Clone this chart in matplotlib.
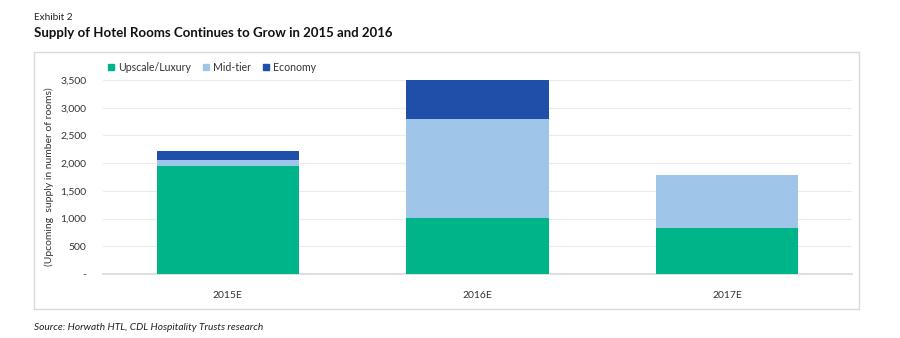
import numpy as np
import matplotlib.pyplot as plt
from matplotlib.patches import Rectangle

plt.rcParams['font.family'] = ['Lato', 'DejaVu Sans']

years = ["2015E", "2016E", "2017E"]
upscale = [1950, 1010, 825]
midtier = [110, 1780, 965]
economy = [160, 710, 0]
series_names = ["Upscale/Luxury", "Mid-tier", "Economy"]
colors = ["#00B48A", "#9FC5E8", "#1F4FA8"]
yticks = [0, 500, 1000, 1500, 2000, 2500, 3000, 3500]
ytick_labels = ["-", "500", "1,000", "1,500", "2,000", "2,500", "3,000", "3,500"]

fig = plt.figure(figsize=(9, 3.38), dpi=100)
ax = fig.add_axes([0.1144, 0.1893, 0.8323, 0.574])

# outer frame around the chart
fig.patches.append(Rectangle((0.0378, 0.0858), 0.9167, 0.760, transform=fig.transFigure,
                             fill=False, edgecolor="#d9d9d9", linewidth=1.0))

x = np.arange(len(years))
w = 0.57
bottom = np.zeros(len(years))
for vals, name, c in zip([upscale, midtier, economy], series_names, colors):
    ax.bar(x, vals, w, bottom=bottom, color=c, label=name, zorder=3)
    bottom += np.array(vals)

ax.set_xlim(-0.5, 2.5)
ax.set_ylim(0, 3500)
ax.set_yticks(yticks)
ax.set_yticklabels(ytick_labels)
ax.set_xticks(x)
ax.set_xticklabels(years)
ax.tick_params(axis="both", length=0, labelsize=7.5, colors="#333333")
ax.tick_params(axis="y", pad=12)
ax.tick_params(axis="x", pad=12)
ax.grid(axis="y", color="#ececec", linewidth=0.8, zorder=0)
for s in ["top", "right", "left"]:
    ax.spines[s].set_visible(False)
ax.spines["bottom"].set_color("#d9d9d9")
ax.spines["bottom"].set_linewidth(1.2)

ax.set_ylabel("(Upcoming  supply in number of rooms)", fontsize=7.5, color="#333333")
ax.yaxis.set_label_coords(-0.066, 0.5)

handles = [plt.Line2D([], [], marker="s", linestyle="", color=c, markersize=5) for c in colors]
ax.legend(handles, series_names, loc="lower left", bbox_to_anchor=(-0.005, 1.0), ncol=3,
          frameon=False, fontsize=7.6, handlelength=0.8, handletextpad=0.3,
          columnspacing=1.0, borderaxespad=0.3, labelcolor="#333333")

fig.text(0.038, 0.948, "Exhibit 2", fontsize=7.2, color="#222222", va="center")
fig.text(0.038, 0.902, "Supply of Hotel Rooms Continues to Grow in 2015 and 2016",
         fontsize=9.5, fontweight="bold", color="#111111", va="center")
fig.text(0.038, 0.030, "Source: Horwath HTL, CDL Hospitality Trusts research",
         fontsize=7.3, style="italic", color="#222222", va="center")

fig.savefig("out.png", dpi=100)
